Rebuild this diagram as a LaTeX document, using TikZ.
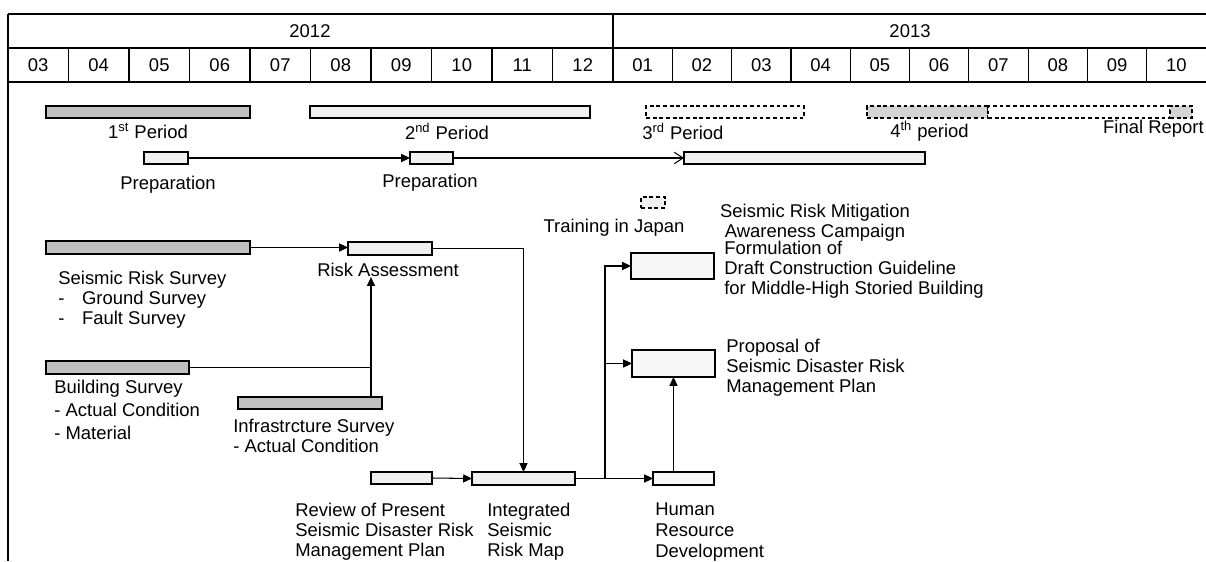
\documentclass[tikz,border=0pt]{standalone}
\usepackage{fontspec}
\setmainfont{Liberation Sans}
\usetikzlibrary{arrows.meta}
\definecolor{barDark}{RGB}{192,192,192}
\definecolor{barMid}{RGB}{212,212,212}
\definecolor{barLight}{RGB}{240,240,240}
\definecolor{barPale}{RGB}{247,247,247}

\begin{document}
\begin{tikzpicture}[x=0.02cm, y=-0.02cm, font=\fontsize{10.5}{11.4}\selectfont,
  bar/.style={draw, line width=0.6pt, inner sep=0pt, outer sep=0pt, anchor=north west, minimum height=12*0.02cm},
  w/.style={minimum width=#1*0.02cm}, h/.style={minimum height=#1*0.02cm},
  dark/.style={bar, fill=barDark}, light/.style={bar, fill=barLight}, pale/.style={bar, fill=barPale},
  plan/.style={bar, dash pattern=on 2.2pt off 1.6pt},
  txt/.style={inner sep=0pt, align=left, anchor=west},
  arr/.style={line width=0.6pt, -{Triangle[length=5pt,width=4.6pt]}},
  hdr/.style={line width=0.7pt}]
\useasboundingbox (0,0) rectangle (1206,561);

\draw[hdr] (8,14) -- (1206,14);
\draw[hdr] (8,48) -- (1206,48);
\draw[hdr] (8,82) -- (1206,82);
\draw[hdr] (8,14) -- (8,561);
\draw[hdr] (613,14) -- (613,82);
\node (y12) at (310,31) {2012};
\node (y13) at (910,31) {2013};
\foreach \m [count=\i from 0] in {03,04,05,06,07,08,09,10,11,12} {
  \draw[hdr] (8+60.5*\i,48) -- (8+60.5*\i,82);
  \node (ma\i) at (38.25+60.5*\i,65) {\m};
}
\foreach \m [count=\i from 0] in {01,02,03,04,05,06,07,08,09,10} {
  \draw[hdr] (613+59.3*\i,48) -- (613+59.3*\i,82);
  \node (mb\i) at (642.65+59.3*\i,65) {\m};
}

\node[dark, w=204] (per1) at (46,106) {};
\node[light, w=280] (per2) at (310,106) {};
\node[plan, fill=barPale, w=158] (per3) at (646,106) {};
\node[plan, fill=barMid, w=121] (per4a) at (867,106) {};
\node[plan, fill=white, w=182] (per4b) at (988,106) {};
\node[plan, fill=barMid, w=22] (per4c) at (1170,106) {};
\node[inner sep=0pt] (lab1) at (148,131) {1\textsuperscript{st} Period};
\node[inner sep=0pt] (lab2) at (447,131) {2\textsuperscript{nd} Period};
\node[txt] (lab3) at (642,131) {3\textsuperscript{rd} Period};
\node[txt] (lab4) at (890,131) {4\textsuperscript{th} period};
\node[txt, anchor=east] (labfr) at (1204,129) {Final Report};

\node[light, w=44] (prep1) at (144,152) {};
\node[light, w=43] (prep2) at (410,152) {};
\node[light, w=241] (srm) at (684,152) {};
\node[plan, fill=barLight, w=24, h=11] (train) at (641,197) {};
\node[inner sep=0pt] (labprep1) at (168,185) {Preparation};
\node[inner sep=0pt] (labprep2) at (430,183) {Preparation};
\node[inner sep=0pt, align=center] (labsrm) at (815,223) {Seismic Risk Mitigation\\Awareness Campaign};
\node[inner sep=0pt] (labtrain) at (614,228) {Training in Japan};
\draw[arr] (prep1.east) -- (prep2.west);
\draw[line width=0.6pt, -{Straight Barb[length=5pt,width=6.5pt]}] (prep2.east) -- (srm.west);

\node[dark, w=204, h=13] (srs) at (46,241) {};
\node[light, w=84, h=13] (ra) at (348,242) {};
\node[dark, w=143, h=13] (bsurv) at (46,361) {};
\node[dark, w=144] (infra) at (238,397) {};
\node[light, w=61] (rev) at (371,472) {};
\node[light, w=103, h=13] (intmap) at (472,472) {};
\node[pale, w=61, h=13] (hrd) at (653,472) {};
\node[pale, w=83, h=26] (form) at (631,253) {};
\node[pale, w=83, h=27] (prop) at (632,350) {};
\coordinate (jn) at (371,367);
\coordinate (br) at (605,478);

\node[txt] (labsrs) at (58,300) {Seismic Risk Survey\\-\hspace{10pt}Ground Survey\\-\hspace{10pt}Fault Survey};
\node[inner sep=0pt] (labra) at (388,270) {Risk Assessment};
\node[txt] (labbs) at (54,410) {Building Survey\\[1.5pt]- Actual Condition\\[1.5pt]- Material};
\node[txt] (labinf) at (233,436) {Infrastrcture Survey\\- Actual Condition};
\node[txt] (labrev) at (295,532) {Review of Present\\Seismic Disaster Risk\\Management Plan};
\node[txt] (labint) at (487,532) {Integrated\\Seismic\\Risk Map};
\node[txt] (labhrd) at (655,532) {Human\\[0.8pt]Resource\\[0.8pt]Development};
\node[txt] (labform) at (724,270) {Formulation of\\Draft Construction Guideline\\for Middle-High Storied Building};
\node[txt] (labprop) at (726,368) {Proposal of\\Seismic Disaster Risk\\Management Plan};

\draw[arr] (srs.east) -- (srs.east -| ra.west);
\draw[arr] (ra.east) -| (intmap.north);
\draw[line width=0.6pt] (bsurv.east) -- (bsurv.east -| jn);
\draw[arr] (infra.north -| jn) -- (labra.south -| jn);
\draw[arr] (rev.east) -- (intmap.west);
\draw[arr] (intmap.east) -- (hrd.west);
\draw[arr] (br) |- (form.west);
\draw[arr] (br) |- (prop.west);
\draw[arr] (prop.south |- hrd.north) -- (prop.south);
\end{tikzpicture}
\end{document}
